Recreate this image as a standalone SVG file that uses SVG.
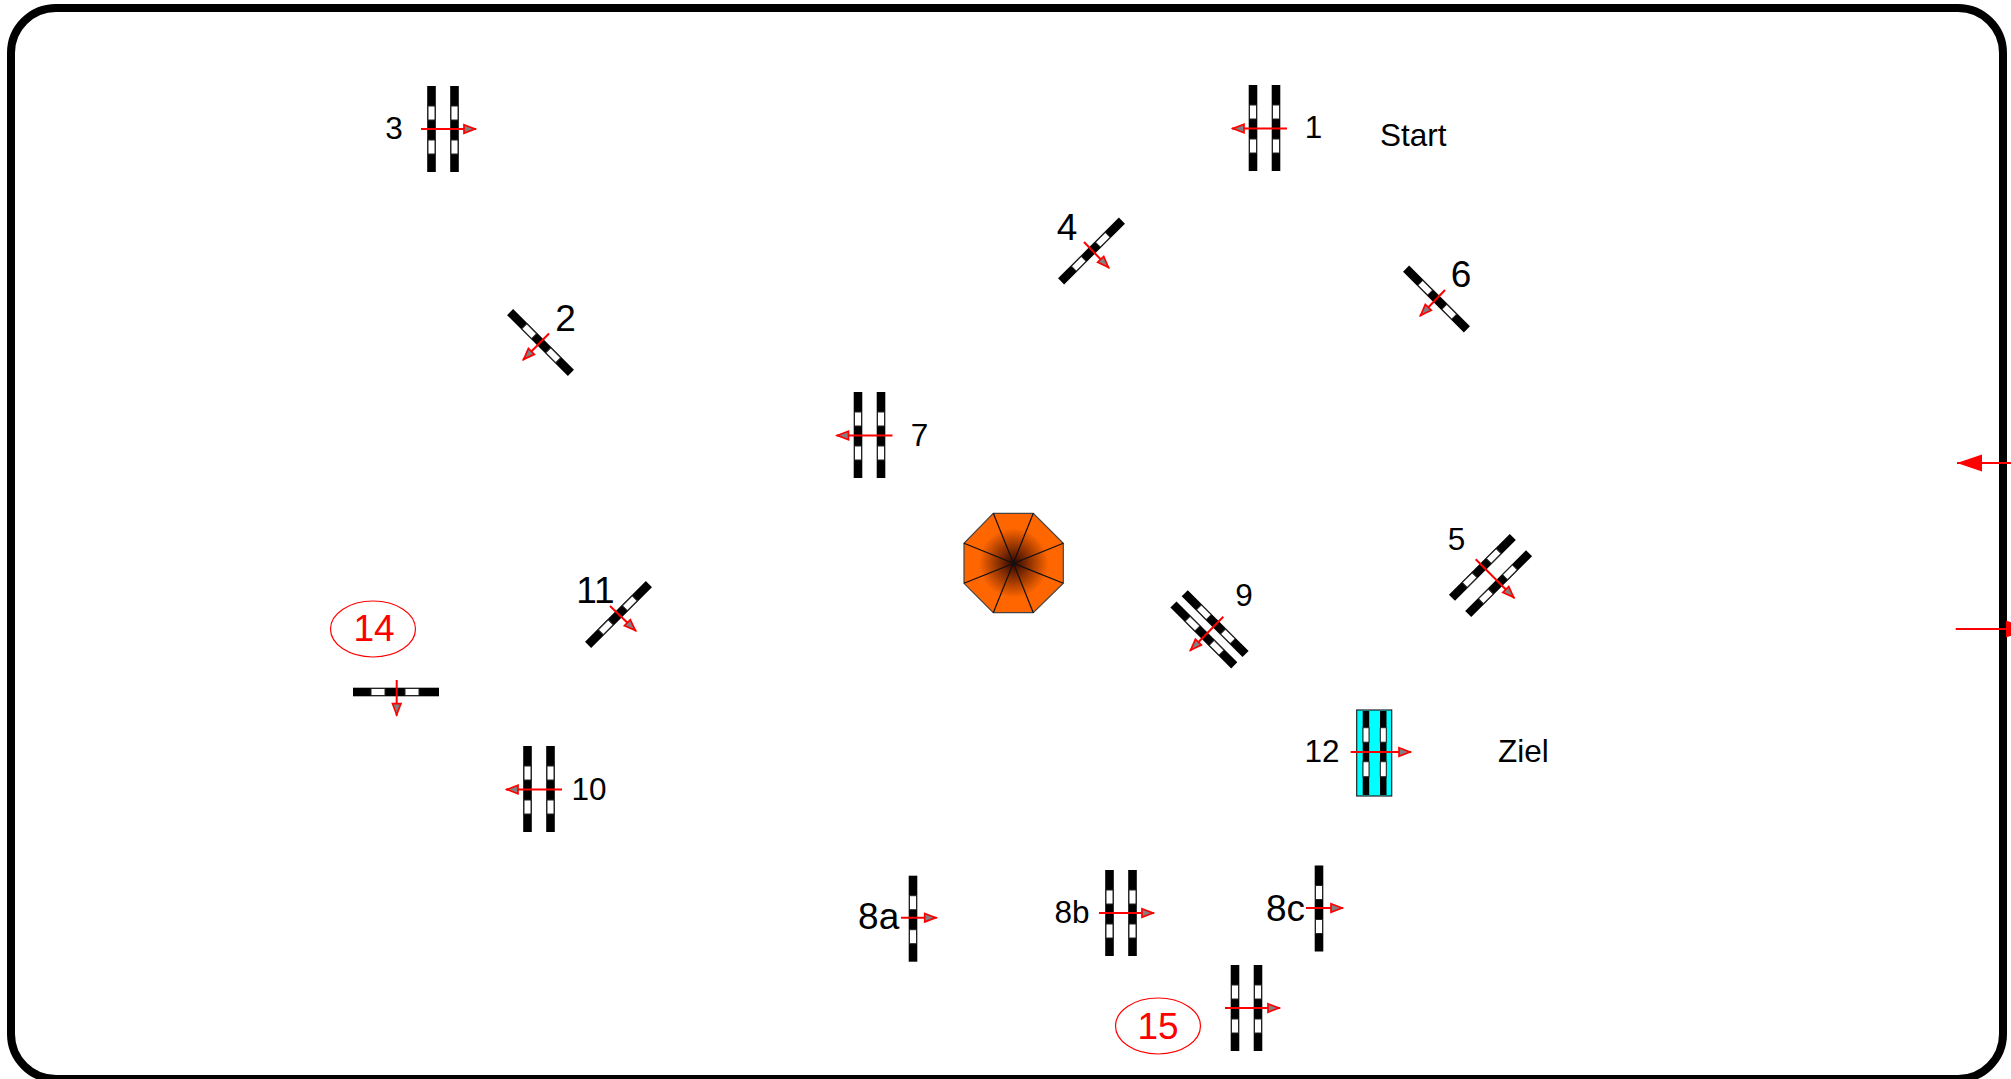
<svg xmlns="http://www.w3.org/2000/svg" width="2011" height="1079" viewBox="0 0 2011 1079">
<style>
text{font-family:"Liberation Sans",Arial,sans-serif;font-size:31.5px;fill:#000;text-anchor:middle}
.big{font-size:37px}
.red{fill:#f00}
.start{text-anchor:start}
.bar{fill:#000}
.win{fill:#fff;stroke:#222;stroke-width:1}
.arrow{stroke:#f00;stroke-width:2;fill:none;marker-end:url(#tip)}
.edge{stroke:#f00;stroke-width:2;fill:none;marker-end:url(#bigtip)}
.ring{fill:none;stroke:#f00;stroke-width:1.2}
.spoke{stroke:#111;stroke-width:1.2}
</style>
<defs>
<marker id="tip" markerUnits="userSpaceOnUse" markerWidth="16" markerHeight="14" refX="14" refY="6" orient="auto" overflow="visible"><path d="M2 1.800L13 6L2 10.200Z" fill="#808080" stroke="#f00" stroke-width="1.700"/></marker>
<marker id="bigtip" markerUnits="userSpaceOnUse" markerWidth="26" markerHeight="18" refX="25" refY="9" orient="auto" overflow="visible"><path d="M0 0.500L25 9L0 17.500Z" fill="#f00"/></marker>
<radialGradient id="roof" cx="50%" cy="50%" r="50%"><stop offset="0" stop-color="#2e0500"/><stop offset="0.25" stop-color="#7a2800"/><stop offset="0.7" stop-color="#ff6600"/><stop offset="1" stop-color="#ff6600"/></radialGradient>
<g id="bar"><rect class="bar" x="-4.300" y="-43" width="8.600" height="86"/><rect class="win" x="-3.500" y="-23" width="7" height="14"/><rect class="win" x="-3.500" y="11" width="7" height="14"/></g>
<g id="double"><use href="#bar" x="-11.500"/><use href="#bar" x="11.500"/></g>
<g id="close"><use href="#bar" x="-8"/><use href="#bar" x="8"/></g>
</defs>
<rect id="frame" x="11" y="8" width="1992" height="1071" rx="45" ry="45" fill="#fff" stroke="#000" stroke-width="8"/>
<g id="tent"><polygon points="993.300,513.300 1033.300,513.300 1063.300,543.300 1063.300,583.300 1033.300,612.700 993.300,612.700 964,583.300 964,543.300" fill="url(#roof)" stroke="#444" stroke-width="1.200"/>
<path class="spoke" d="M993.300 513.300L1033.300 612.700M1033.300 513.300L993.300 612.700M1063.300 543.300L964 583.300M1063.300 583.300L964 543.300"/></g>
<g id="gate-1"><use href="#double" transform="translate(1264.500,128)"/><text x="1313.500" y="138">1</text></g>
<text id="label-start" class="start" x="1380" y="146">Start</text>
<g id="gate-3"><use href="#double" transform="translate(443,129)"/><text x="394" y="138.500">3</text></g>
<g id="gate-4"><use href="#bar" transform="translate(1091.500,251) rotate(45)"/><text class="big" x="1067" y="239.500">4</text></g>
<g id="gate-6"><use href="#bar" transform="translate(1436.500,299) rotate(-45)"/><text class="big" x="1461" y="287">6</text></g>
<g id="gate-2"><use href="#bar" transform="translate(540.500,342.500) rotate(-45)"/><text class="big" x="565.500" y="331">2</text></g>
<g id="gate-7"><use href="#double" transform="translate(869.500,435)"/><text x="919.500" y="446">7</text></g>
<g id="gate-5"><use href="#double" transform="translate(1490.500,575.500) rotate(45)"/><text x="1456.500" y="550.200">5</text></g>
<g id="gate-9"><use href="#close" transform="translate(1209.500,629.300) rotate(-45)"/><text x="1244" y="605.500">9</text></g>
<g id="gate-11"><use href="#bar" transform="translate(618.500,614.500) rotate(45)"/><text class="big" x="595.500" y="603">11</text></g>
<g id="gate-14"><ellipse class="ring" cx="373" cy="629" rx="42.500" ry="28"/><text class="big red" x="374" y="640.700">14</text><use href="#bar" transform="translate(396,692) rotate(90)"/></g>
<g id="gate-12"><rect x="1356.700" y="710" width="35" height="86" fill="#0ff" stroke="#222" stroke-width="1.200"/>
<rect class="bar" x="1362.700" y="711" width="6.500" height="84"/><rect class="bar" x="1380" y="711" width="6.500" height="84"/>
<rect class="win" x="1363" y="727.700" width="6" height="14.500"/><rect class="win" x="1380.300" y="727.700" width="6" height="14.500"/><rect class="win" x="1363" y="761.700" width="6" height="15"/><rect class="win" x="1380.300" y="761.700" width="6" height="15"/>
<text x="1322" y="762">12</text></g>
<text id="label-ziel" class="start" x="1498" y="762">Ziel</text>
<g id="gate-10"><use href="#double" transform="translate(539,789)"/><text x="589" y="800">10</text></g>
<g id="gate-8a"><use href="#bar" transform="translate(913,918.700)"/><text class="big" x="878.700" y="929">8a</text></g>
<g id="gate-8b"><use href="#double" transform="translate(1121,913)"/><text x="1072" y="923">8b</text></g>
<g id="gate-8c"><use href="#bar" transform="translate(1319,908.500)"/><text class="big" x="1285.500" y="921">8c</text></g>
<g id="gate-15"><ellipse class="ring" cx="1158" cy="1026" rx="42.500" ry="28"/><text class="big red" x="1158" y="1039">15</text><use href="#double" transform="translate(1246.500,1008)"/></g>
<g id="connectors">
<line class="arrow" x1="1287" y1="128.500" x2="1232" y2="128.500"/>
<line class="arrow" x1="421" y1="129" x2="476" y2="129"/>
<line class="arrow" x1="1084" y1="242" x2="1109" y2="268"/>
<line class="arrow" x1="1445" y1="290" x2="1420" y2="316"/>
<line class="arrow" x1="549" y1="333.500" x2="523" y2="360"/>
<line class="arrow" x1="892.500" y1="435.500" x2="836.500" y2="435.500"/>
<line class="arrow" x1="1475.700" y1="559.300" x2="1514.300" y2="598"/>
<line class="arrow" x1="1223.300" y1="616.700" x2="1190" y2="650.700"/>
<line class="arrow" x1="610" y1="606" x2="636" y2="631"/>
<line class="arrow" x1="396.700" y1="680" x2="396.700" y2="715.700"/>
<line class="arrow" x1="1350.700" y1="752" x2="1411" y2="752"/>
<line class="arrow" x1="562" y1="789.500" x2="506" y2="789.500"/>
<line class="arrow" x1="901" y1="917.700" x2="936.700" y2="917.700"/>
<line class="arrow" x1="1099" y1="913" x2="1154" y2="913"/>
<line class="arrow" x1="1306" y1="908" x2="1343" y2="908"/>
<line class="arrow" x1="1225" y1="1008" x2="1280" y2="1008"/>
<line class="edge" x1="2011" y1="463" x2="1957" y2="463"/>
<line class="edge" x1="1955.700" y1="629" x2="2031" y2="629"/>
</g>
</svg>
